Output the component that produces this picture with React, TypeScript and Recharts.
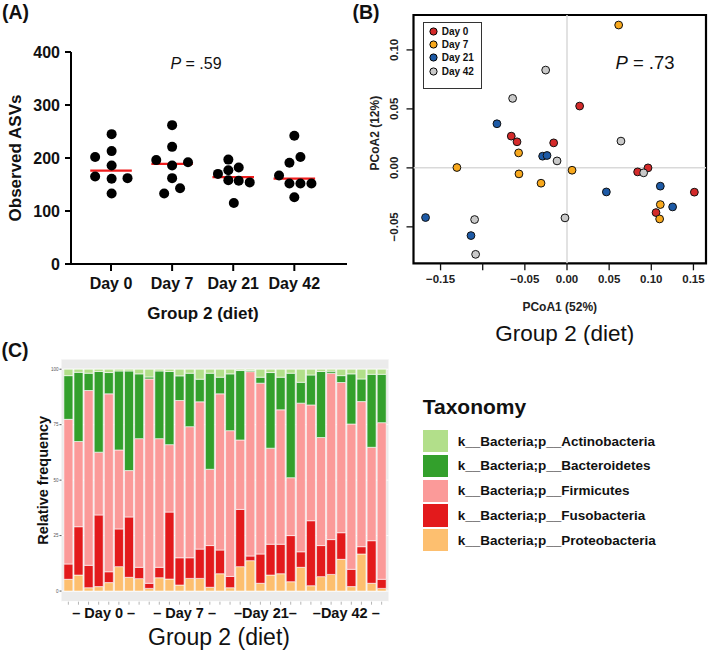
import React from 'react';
import {
  ScatterChart, Scatter, XAxis, YAxis, ReferenceLine, ReferenceArea,
  BarChart, Bar, CartesianGrid, Legend, Label,
} from 'recharts';

const FONT = '"Liberation Sans", Arial, Helvetica, sans-serif';

// ---------------- Panel A data ----------------
const dayLabels = ['Day 0', 'Day 7', 'Day 21', 'Day 42'];
const asvDay0 = [202, 245, 213, 186, 165, 161, 162, 133];
const asvDay7 = [196, 262, 221, 186, 192, 162, 133, 143];
const asvDay21 = [197, 182, 170, 177, 158, 157, 154, 115];
const asvDay42 = [242, 191, 202, 167, 152, 152, 152, 126];
const jitterDay0 = [-0.26, 0.01, 0.01, 0.01, -0.26, 0.01, 0.27, 0.01];
const jitterDay7 = [-0.26, 0, 0, 0, 0.26, 0, -0.13, 0.13];
const jitterDay21 = [-0.08, 0.09, -0.25, -0.08, -0.08, 0.09, 0.27, 0.01];
const jitterDay42 = [0, -0.08, 0.1, -0.25, -0.08, 0.1, 0.28, 0];
const asvMedians = [176, 189, 164, 161];

// ---------------- Panel B data ----------------
const pcoa1Day0 = [0.0150, -0.0661, -0.0593, -0.0158, 0.0838, 0.0961, 0.1511, 0.1056];
const pcoa2Day0 = [0.0524, 0.0269, 0.0221, 0.0212, -0.0034, 0.0000, -0.0206, -0.0379];
const pcoa1Day7 = [0.0613, -0.1306, -0.0574, -0.0570, -0.0308, 0.0060, 0.1107, 0.1099];
const pcoa2Day7 = [0.1211, 0.0003, 0.0127, -0.0051, -0.0130, -0.0020, -0.0311, -0.0433];
const pcoa1Day21 = [-0.0831, -0.0289, -0.0237, -0.1678, -0.1139, 0.0467, 0.1107, 0.1253];
const pcoa2Day21 = [0.0374, 0.0099, 0.0105, -0.0421, -0.0574, -0.0204, -0.0155, -0.0331];
const pcoa1Day42 = [-0.0253, -0.0645, 0.0640, -0.0118, 0.0909, -0.0024, -0.1096, -0.1084];
const pcoa2Day42 = [0.0829, 0.0589, 0.0227, 0.0059, -0.0042, -0.0424, -0.0438, -0.0733];
const pcoaXTicks = [-0.15, -0.1, -0.05, 0, 0.05, 0.1, 0.15];
const pcoaYTicks = [-0.05, 0, 0.05, 0.1];

// ---------------- Panel C data ----------------
const taxaNames = [
  'k__Bacteria;p__Proteobacteria',
  'k__Bacteria;p__Fusobacteria',
  'k__Bacteria;p__Firmicutes',
  'k__Bacteria;p__Bacteroidetes',
  'k__Bacteria;p__Actinobacteria',
];
const proteo = [5.3, 7.2, 1.5, 2.0, 3.8, 11.0, 6.2, 5.6, 1.2, 6.0, 5.4, 2.7, 5.7, 5.7, 1.7, 7.8, 1.5, 11.0, 13.7, 3.5, 7.2, 7.8, 4.2, 10.7, 2.4, 6.5, 7.5, 14.3, 2.0, 16.7, 3.5, 1.2];
const fuso = [6.9, 21.8, 10.1, 32.3, 4.9, 17.0, 27.2, 5.1, 2.3, 4.7, 30.2, 12.3, 9.3, 13.2, 18.8, 10.7, 5.1, 25.8, 2.1, 13.2, 13.9, 13.3, 20.8, 7.0, 29.3, 14.0, 15.7, 12.0, 7.8, 3.3, 19.2, 4.1];
const firm = [65.2, 38.4, 78.8, 28.3, 80.2, 35.6, 20.9, 58.0, 92.1, 58.0, 30.4, 70.9, 59.1, 66.4, 34.4, 70.4, 65.7, 31.3, 83.1, 77.0, 43.3, 60.6, 26.1, 67.0, 52.2, 48.7, 75.0, 67.7, 65.5, 65.4, 42.1, 70.6];
const bact = [19.7, 31.2, 7.8, 36.4, 9.6, 35.6, 44.9, 29.2, 0.9, 30.5, 33.0, 11.1, 24.1, 10.2, 43.3, 7.5, 25.6, 31.3, 0.5, 2.7, 34.1, 14.7, 47.1, 9.4, 13.5, 29.8, 0.9, 3.1, 22.6, 10.2, 32.9, 21.8];
const actino = [2.9, 1.4, 1.8, 1.0, 1.5, 0.8, 0.8, 2.1, 3.5, 0.8, 1.0, 3.0, 1.8, 4.5, 1.8, 3.6, 2.1, 0.6, 0.6, 3.6, 1.5, 3.6, 1.8, 5.9, 2.6, 1.0, 0.9, 2.9, 2.1, 4.4, 2.3, 2.3];
const groupTickLabels = ['\u2013 Day 0 \u2013', '\u2013 Day 7 \u2013', '\u2013Day 21\u2013', '\u2013Day 42 \u2013'];
const relFreqTicks = [0, 25, 50, 75, 100];

// ---------------- derived tables ----------------
const toPoints = (vals: number[], jit: number[], g: number) =>
  vals.map((v, i) => ({ x: g + jit[i], y: v }));
const asvSeries = [
  toPoints(asvDay0, jitterDay0, 0),
  toPoints(asvDay7, jitterDay7, 1),
  toPoints(asvDay21, jitterDay21, 2),
  toPoints(asvDay42, jitterDay42, 3),
];

const zipXY = (xs: number[], ys: number[]) => xs.map((x, i) => ({ x, y: ys[i] }));
const pcoaSeries = [
  zipXY(pcoa1Day0, pcoa2Day0),
  zipXY(pcoa1Day7, pcoa2Day7),
  zipXY(pcoa1Day21, pcoa2Day21),
  zipXY(pcoa1Day42, pcoa2Day42),
];
const dayColors = ['#d42a2a', '#f8a81c', '#1d5aa6', '#c9c9c9'];

const taxaRows = proteo.map((_, i) => ({
  sample: `${dayLabels[Math.floor(i / 8)]}-${(i % 8) + 1}`,
  [taxaNames[0]]: proteo[i],
  [taxaNames[1]]: fuso[i],
  [taxaNames[2]]: firm[i],
  [taxaNames[3]]: bact[i],
  [taxaNames[4]]: actino[i],
}));
const taxaColors = ['#fdbf6f', '#e31a1c', '#fb9a99', '#33a02c', '#b2df8a'];

const fmtB = (v: number) => {
  if (Math.abs(v + 0.1) < 1e-9) return '';
  const s = Math.abs(v).toFixed(2);
  return v < -1e-9 ? '\u2212' + s : s;
};

// ---------------- Panel A ----------------
function PanelA() {
  return (
    <ScatterChart width={350} height={330} margin={{ top: 52, right: 3, bottom: 0, left: 0 }}>
      <XAxis
        type="number" dataKey="x" domain={[-0.655, 3.862]} ticks={[0, 1, 2, 3]} interval={0}
        allowDataOverflow tickFormatter={(v: number) => dayLabels[v]} height={66}
        axisLine={{ stroke: '#000', strokeWidth: 2 }} tickLine={{ stroke: '#000', strokeWidth: 2 }}
        tickSize={7} tickMargin={7} tick={{ fill: '#111', fontSize: 16, fontWeight: 700 }}
      >
        <Label
          content={(p: any) => {
            const vb = p.viewBox;
            return (
              <text x={vb.x + vb.width / 2 - 6} y={319} textAnchor="middle" fontSize={17} fontWeight={700} fill="#111">
                Group 2 (diet)
              </text>
            );
          }}
        />
      </XAxis>
      <YAxis
        type="number" dataKey="y" domain={[0, 400]} ticks={[0, 100, 200, 300, 400]} interval={0}
        width={71} axisLine={{ stroke: '#000', strokeWidth: 2 }} tickLine={{ stroke: '#000', strokeWidth: 2 }}
        tickSize={6} tickMargin={5} tick={{ fill: '#111', fontSize: 16, fontWeight: 700 }}
      >
        <Label
          content={(p: any) => {
            const vb = p.viewBox;
            const cy = vb.y + vb.height / 2;
            return (
              <text x={21} y={cy} transform={`rotate(-90 21 ${cy})`} textAnchor="middle" fontSize={17} fontWeight={700} fill="#111">
                Observed ASVs
              </text>
            );
          }}
        />
      </YAxis>
      {asvSeries.map((d, i) => (
        <Scatter
          key={i} data={d} isAnimationActive={false} fill="#000"
          shape={(p: any) => <circle cx={p.cx} cy={p.cy} r={5} fill="#000" />}
        />
      ))}
      {asvMedians.map((m, i) => (
        <ReferenceLine
          key={`m${i}`} segment={[{ x: i - 0.34, y: m }, { x: i + 0.34, y: m }]}
          stroke="#f01c1c" strokeWidth={2.2}
        />
      ))}
    </ScatterChart>
  );
}

// ---------------- Panel B ----------------
const RotYTick = (props: any) => {
  const { x, y, payload } = props;
  const bx = x - 6;
  return (
    <text x={bx} y={y} transform={`rotate(-90 ${bx} ${y})`} textAnchor="middle" fontSize={11.5} fontWeight={700} fill="#222">
      {fmtB(payload.value)}
    </text>
  );
};

const DayLegend = (props: any) => {
  const items = [...(props.payload || [])].sort(
    (a: any, b: any) => dayLabels.indexOf(a.value) - dayLabels.indexOf(b.value),
  );
  return (
    <div style={{ width: 57, height: 63, border: '1.5px solid #333', background: '#fff', fontFamily: FONT, boxSizing: 'content-box', paddingTop: 2 }}>
      {items.map((it: any) => (
        <div key={it.value} style={{ display: 'flex', alignItems: 'center', height: 13.3, paddingLeft: 5 }}>
          <svg width={9} height={9} style={{ display: 'block' }}>
            <circle cx={4.5} cy={4.5} r={3.6} fill={it.color} stroke="#000" strokeWidth={1} />
          </svg>
          <span style={{ marginLeft: 4, fontSize: 10, fontWeight: 700, color: '#111', lineHeight: '13px' }}>{it.value}</span>
        </div>
      ))}
    </div>
  );
};

function PanelB() {
  const xd: [number, number] = [-0.1821, 0.1649];
  const yd: [number, number] = [-0.0809, 0.1296];
  return (
    <ScatterChart width={359} height={345} margin={{ top: 15, right: 3, bottom: 0, left: 0 }}>
      <XAxis
        type="number" dataKey="x" domain={xd} ticks={pcoaXTicks} interval={0} allowDataOverflow
        tickFormatter={fmtB} height={81.7} axisLine={false}
        tickLine={{ stroke: '#111', strokeWidth: 1.3 }} tickSize={7} tickMargin={5}
        tick={{ fill: '#222', fontSize: 11.5, fontWeight: 700 }}
      >
        <Label
          content={(p: any) => {
            const vb = p.viewBox;
            const cx = vb.x + vb.width / 2;
            return (
              <g>
                <text x={cx} y={311} textAnchor="middle" fontSize={12} fontWeight={700} fill="#222">PCoA1 (52%)</text>
                <text x={cx + 5} y={341} textAnchor="middle" fontSize={22.5} fill="#111">Group 2 (diet)</text>
              </g>
            );
          }}
        />
      </XAxis>
      <YAxis
        type="number" dataKey="y" domain={yd} ticks={pcoaYTicks} interval={0} allowDataOverflow
        width={63.5} axisLine={false} tickLine={{ stroke: '#111', strokeWidth: 1.3 }} tickSize={7}
        tick={<RotYTick />}
      >
        <Label
          content={(p: any) => {
            const vb = p.viewBox;
            const cy = vb.y + vb.height / 2 - 6;
            return (
              <text x={29.5} y={cy} transform={`rotate(-90 29.5 ${cy})`} textAnchor="middle" fontSize={12} fontWeight={700} fill="#222">
                PCoA2 (12%)
              </text>
            );
          }}
        />
      </YAxis>
      <ReferenceLine x={0} stroke="#d9d9d9" strokeWidth={1.5} />
      <ReferenceLine y={0} stroke="#d9d9d9" strokeWidth={1.5} />
      <ReferenceArea x1={xd[0]} x2={xd[1]} y1={yd[0]} y2={yd[1]} fill="none" fillOpacity={0} stroke="#000" strokeWidth={2.2} ifOverflow="visible" />
      {pcoaSeries.map((d, i) => (
        <Scatter
          key={i} name={dayLabels[i]} data={d} fill={dayColors[i]} isAnimationActive={false}
          shape={(p: any) => <circle cx={p.cx} cy={p.cy} r={3.9} fill={dayColors[i]} stroke="#111" strokeWidth={1} />}
        />
      ))}
      <Legend
        layout="vertical" align="center" verticalAlign="middle"
        wrapperStyle={{ left: 72.7, top: 21.7, width: 61, height: 66 }}
        content={<DayLegend />}
      />
    </ScatterChart>
  );
}

// ---------------- Panel C ----------------
const GroupTick = (props: any) => {
  const { x, y, payload, index } = props;
  const idx = typeof index === 'number' ? index : payload?.index;
  if (idx % 8 !== 4) return <g />;
  const half = payload && typeof payload.offset === 'number' && payload.offset > 0 ? payload.offset : 5.05;
  return (
    <text x={x - half} y={y + 11} textAnchor="middle" fontSize={14.5} fontWeight={700} fill="#111">
      {groupTickLabels[Math.floor(idx / 8)]}
    </text>
  );
};

const TaxLegend = (props: any) => {
  const items = [...(props.payload || [])].sort(
    (a: any, b: any) => taxaNames.indexOf(b.value) - taxaNames.indexOf(a.value),
  );
  return (
    <div style={{ fontFamily: FONT, color: '#111' }}>
      <div style={{ fontSize: 21, fontWeight: 700, lineHeight: '24px', height: 24, marginBottom: 11.5 }}>Taxonomy</div>
      {items.map((it: any) => (
        <div key={it.value} style={{ display: 'flex', alignItems: 'center', height: 22.3, marginBottom: 2.5 }}>
          <div style={{ width: 25, height: 22.3, background: it.color }} />
          <span style={{ marginLeft: 10, fontSize: 13.5, fontWeight: 700, whiteSpace: 'nowrap' }}>{it.value}</span>
        </div>
      ))}
    </div>
  );
};

function PanelC() {
  return (
    <BarChart
      width={709} height={318} data={taxaRows}
      margin={{ top: 19, right: 320.5, bottom: 0, left: 0 }}
      barCategoryGap={0.6}
    >
      <CartesianGrid fill="#ebebeb" stroke="#ffffff" vertical={false} />
      <XAxis
        dataKey="sample" interval={0} height={56.3} axisLine={false}
        tickLine={{ stroke: '#b5b5b5' }} tickSize={3} tickMargin={2}
        padding={{ left: 1.8, right: 1.8 }} tick={<GroupTick />}
      >
        <Label
          content={(p: any) => {
            const vb = p.viewBox;
            return (
              <text x={vb.x + vb.width / 2 - 6} y={305} textAnchor="middle" fontSize={23} fill="#111">
                Group 2 (diet)
              </text>
            );
          }}
        />
      </XAxis>
      <YAxis
        type="number" domain={[-4.8, 104.6]} ticks={relFreqTicks} interval={0} allowDataOverflow
        width={61.5} axisLine={false} tickLine={{ stroke: '#555' }} tickSize={2} tickMargin={1}
        tick={{ fontSize: 4.5, fill: '#555' }}
      >
        <Label
          content={(p: any) => {
            const vb = p.viewBox;
            const cy = vb.y + vb.height / 2;
            return (
              <text x={48} y={cy} transform={`rotate(-90 48 ${cy})`} textAnchor="middle" fontSize={14.5} fontWeight={700} fill="#111">
                Relative frequency
              </text>
            );
          }}
        />
      </YAxis>
      {taxaNames.map((n, i) => (
        <Bar
          key={n} dataKey={n} name={n} stackId="tax" fill={taxaColors[i]}
          stroke="#ffffff" strokeWidth={0.6} isAnimationActive={false}
        />
      ))}
      <Legend
        layout="vertical" align="center" verticalAlign="middle"
        wrapperStyle={{ left: 422.7, top: 54.5, width: 280, height: 180 }}
        content={<TaxLegend />}
      />
    </BarChart>
  );
}

export default function App() {
  return (
    <div style={{ position: 'absolute', left: 0, top: 0, width: 709, height: 658, background: '#fff', fontFamily: FONT, overflow: 'hidden' }}>
      <div style={{ position: 'absolute', left: 0, top: 0 }}><PanelA /></div>
      <div style={{ position: 'absolute', left: 350, top: 0 }}><PanelB /></div>
      <div style={{ position: 'absolute', left: 0, top: 340 }}><PanelC /></div>
      <svg width={709} height={658} style={{ position: 'absolute', left: 0, top: 0, pointerEvents: 'none' }}>
        <text x={2} y={18.5} fontSize={19.5} fontWeight={700} fill="#111" fontFamily={FONT}>(A)</text>
        <text x={352.5} y={18.5} fontSize={19.5} fontWeight={700} fill="#111" fontFamily={FONT}>(B)</text>
        <text x={1.5} y={357} fontSize={19.5} fontWeight={700} fill="#111" fontFamily={FONT}>(C)</text>
        <text x={196} y={68.5} fontSize={16} textAnchor="middle" fill="#111" fontFamily={FONT}>
          <tspan fontStyle="italic">P</tspan> = .59
        </text>
        <text x={645} y={69} fontSize={18.5} textAnchor="middle" fill="#111" fontFamily={FONT}>
          <tspan fontStyle="italic">P</tspan> = .73
        </text>
      </svg>
    </div>
  );
}
